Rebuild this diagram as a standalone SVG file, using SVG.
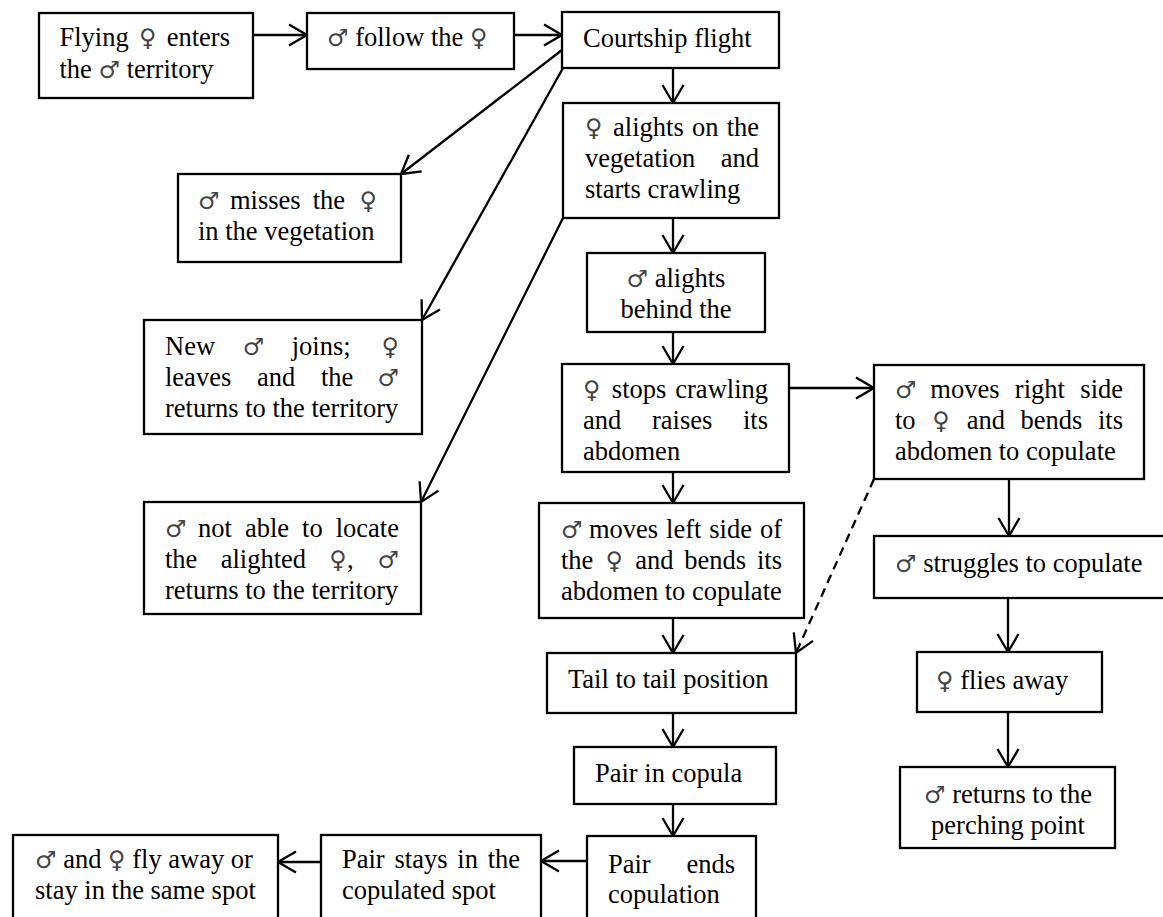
<svg xmlns="http://www.w3.org/2000/svg" width="1163" height="917" viewBox="0 0 1163 917">
  <defs>
    <style>
      .box { fill: #fff; stroke: #000; stroke-width: 2.3; }
      .t { font-family: "Liberation Serif", "Times New Roman", serif; font-size: 26.5px; fill: #000; }
      .s { font-family: "DejaVu Sans", "Noto Sans", sans-serif; font-size: 24px; fill: #444; }
      .c { text-anchor: middle; }
      .e { text-anchor: end; }
      .edge { stroke: #000; stroke-width: 2.3; fill: none; marker-end: url(#ah); }
      .dash { stroke-dasharray: 9 6; }
    </style>
    <!-- open V arrowhead -->
    <marker id="ah" markerUnits="userSpaceOnUse" markerWidth="24" markerHeight="24" refX="19" refY="11" orient="auto" overflow="visible">
      <path d="M1,0.5 L19,11 L1,21.5" fill="none" stroke="#000" stroke-width="2.3"/>
    </marker>
  </defs>

  <rect width="1163" height="917" fill="#fff"/>

  <!-- connectors -->
  <g id="connectors">
    <line class="edge" x1="253" y1="35" x2="307" y2="35"/>
    <line class="edge" x1="514" y1="35" x2="562" y2="35"/>
    <line class="edge" x1="673" y1="68" x2="673" y2="103"/>
    <line class="edge" x1="562" y1="50" x2="401" y2="174"/>
    <line class="edge" x1="563" y1="68" x2="422" y2="320"/>
    <line class="edge" x1="563" y1="218" x2="421" y2="502"/>
    <line class="edge" x1="673" y1="218" x2="673" y2="253"/>
    <line class="edge" x1="673" y1="332" x2="673" y2="364"/>
    <line class="edge" x1="789" y1="388" x2="874" y2="388"/>
    <line class="edge" x1="673" y1="472" x2="673" y2="503"/>
    <line class="edge" x1="673" y1="618" x2="673" y2="653"/>
    <line class="edge dash" x1="874" y1="479" x2="796" y2="653"/>
    <line class="edge" x1="1009" y1="479" x2="1009" y2="536"/>
    <line class="edge" x1="1008" y1="598" x2="1008" y2="652"/>
    <line class="edge" x1="1008" y1="712" x2="1008" y2="767"/>
    <line class="edge" x1="673" y1="713" x2="673" y2="747"/>
    <line class="edge" x1="673" y1="804" x2="673" y2="836"/>
    <line class="edge" x1="587" y1="861" x2="541" y2="861"/>
    <line class="edge" x1="321" y1="862" x2="278" y2="862"/>
  </g>

  <g id="n-enter">
    <rect class="box" x="39" y="13" width="214" height="85"/>
    <text class="t" y="46"><tspan x="59.5">Flying</tspan><tspan class="s c" x="147.7">♀</tspan><tspan class="e" x="230">enters</tspan></text>
    <text class="t" x="59.5" y="78">the <tspan class="s">♂</tspan> territory</text>
  </g>

  <g id="n-follow">
    <rect class="box" x="307" y="13" width="207" height="56"/>
    <text class="t" x="327" y="46"><tspan class="s">♂</tspan> follow the <tspan class="s">♀</tspan></text>
  </g>

  <g id="n-courtship">
    <rect class="box" x="562" y="12" width="217" height="56"/>
    <text class="t" x="583" y="47">Courtship flight</text>
  </g>

  <g id="n-alights">
    <rect class="box" x="563" y="103" width="216" height="115"/>
    <text class="t" y="136"><tspan class="s" x="585">♀</tspan><tspan class="c" x="648.4">alights</tspan><tspan class="c" x="705.2">on</tspan><tspan class="e" x="759">the</tspan></text>
    <text class="t" y="167"><tspan x="585">vegetation</tspan><tspan class="e" x="759">and</tspan></text>
    <text class="t" x="585" y="198">starts crawling</text>
  </g>

  <g id="n-behind">
    <rect class="box" x="587" y="253" width="178" height="79"/>
    <text class="t c" x="676" y="287"><tspan class="s">♂</tspan> alights</text>
    <text class="t c" x="676" y="318">behind the</text>
  </g>

  <g id="n-stops">
    <rect class="box" x="562" y="364" width="227" height="108"/>
    <text class="t" y="398"><tspan class="s" x="583">♀</tspan><tspan class="c" x="639.1">stops</tspan><tspan class="e" x="768">crawling</tspan></text>
    <text class="t" y="429"><tspan x="583">and</tspan><tspan class="c" x="682.2">raises</tspan><tspan class="e" x="768">its</tspan></text>
    <text class="t" x="583" y="460">abdomen</text>
  </g>

  <g id="n-right-side">
    <rect class="box" x="874" y="365" width="270" height="114"/>
    <text class="t" y="398"><tspan class="s" x="895">♂</tspan><tspan class="c" x="964.9">moves</tspan><tspan class="c" x="1039.9">right</tspan><tspan class="e" x="1123">side</tspan></text>
    <text class="t" y="429"><tspan x="895">to</tspan><tspan class="s c" x="941.1">♀</tspan><tspan class="c" x="985.9">and</tspan><tspan class="c" x="1051.5">bends</tspan><tspan class="e" x="1123">its</tspan></text>
    <text class="t" x="895" y="460">abdomen to copulate</text>
  </g>

  <g id="n-struggles">
    <rect class="box" x="874" y="536" width="295" height="62"/>
    <text class="t" x="895" y="572"><tspan class="s">♂</tspan> struggles to copulate</text>
  </g>

  <g id="n-flies">
    <rect class="box" x="917" y="652" width="185" height="60"/>
    <text class="t" x="936" y="689"><tspan class="s">♀</tspan> flies away</text>
  </g>

  <g id="n-perch">
    <rect class="box" x="900" y="767" width="215" height="81"/>
    <text class="t c" x="1008" y="803"><tspan class="s">♂</tspan> returns to the</text>
    <text class="t c" x="1008" y="834">perching point</text>
  </g>

  <g id="n-left-side">
    <rect class="box" x="539" y="503" width="265" height="115"/>
    <text class="t" y="538"><tspan class="s" x="561">♂</tspan><tspan class="c" x="623.5">moves</tspan><tspan class="c" x="683.7">left</tspan><tspan class="c" x="730.6">side</tspan><tspan class="e" x="782">of</tspan></text>
    <text class="t" y="569"><tspan x="561">the</tspan><tspan class="s c" x="614.3">♀</tspan><tspan class="c" x="654.3">and</tspan><tspan class="c" x="715.2">bends</tspan><tspan class="e" x="782">its</tspan></text>
    <text class="t" x="561" y="600">abdomen to copulate</text>
  </g>

  <g id="n-tail">
    <rect class="box" x="547" y="653" width="249" height="60"/>
    <text class="t" x="568" y="688">Tail to tail position</text>
  </g>

  <g id="n-copula">
    <rect class="box" x="574" y="747" width="202" height="57"/>
    <text class="t" x="595" y="782">Pair in copula</text>
  </g>

  <g id="n-ends">
    <rect class="box" x="587" y="836" width="169" height="100"/>
    <text class="t" y="873"><tspan x="608">Pair</tspan><tspan class="e" x="735">ends</tspan></text>
    <text class="t" x="608" y="903">copulation</text>
  </g>

  <g id="n-stays">
    <rect class="box" x="321" y="835" width="220" height="100"/>
    <text class="t" y="868"><tspan x="342">Pair</tspan><tspan class="c" x="421">stays</tspan><tspan class="c" x="467.6">in</tspan><tspan class="e" x="520">the</tspan></text>
    <text class="t" x="342" y="899">copulated spot</text>
  </g>

  <g id="n-fly-away">
    <rect class="box" x="13" y="835" width="265" height="100"/>
    <text class="t" x="35" y="868"><tspan class="s">♂</tspan> and <tspan class="s">♀</tspan> fly away or</text>
    <text class="t" x="35" y="899">stay in the same spot</text>
  </g>

  <g id="n-misses">
    <rect class="box" x="178" y="174" width="223" height="88"/>
    <text class="t" y="209"><tspan class="s" x="198">♂</tspan><tspan class="c" x="265.3">misses</tspan><tspan class="c" x="328.9">the</tspan><tspan class="s e" x="377">♀</tspan></text>
    <text class="t" x="198" y="240">in the vegetation</text>
  </g>

  <g id="n-new-male">
    <rect class="box" x="144" y="320" width="278" height="114"/>
    <text class="t" y="355"><tspan x="165">New</tspan><tspan class="s c" x="253.4">♂</tspan><tspan class="c" x="321.2">joins;</tspan><tspan class="s e" x="399">♀</tspan></text>
    <text class="t" y="386"><tspan x="165">leaves</tspan><tspan class="c" x="276.1">and</tspan><tspan class="c" x="337.1">the</tspan><tspan class="s e" x="399">♂</tspan></text>
    <text class="t" x="165" y="417">returns to the territory</text>
  </g>

  <g id="n-not-located">
    <rect class="box" x="144" y="502" width="277" height="112"/>
    <text class="t" y="537"><tspan class="s" x="165">♂</tspan><tspan class="c" x="214.9">not</tspan><tspan class="c" x="267">able</tspan><tspan class="c" x="312.4">to</tspan><tspan class="e" x="399">locate</tspan></text>
    <text class="t" y="568"><tspan x="165">the</tspan><tspan class="c" x="263.4">alighted</tspan><tspan x="329.3"><tspan class="s">♀</tspan>,</tspan><tspan class="s e" x="399">♂</tspan></text>
    <text class="t" x="165" y="599">returns to the territory</text>
  </g>
</svg>
